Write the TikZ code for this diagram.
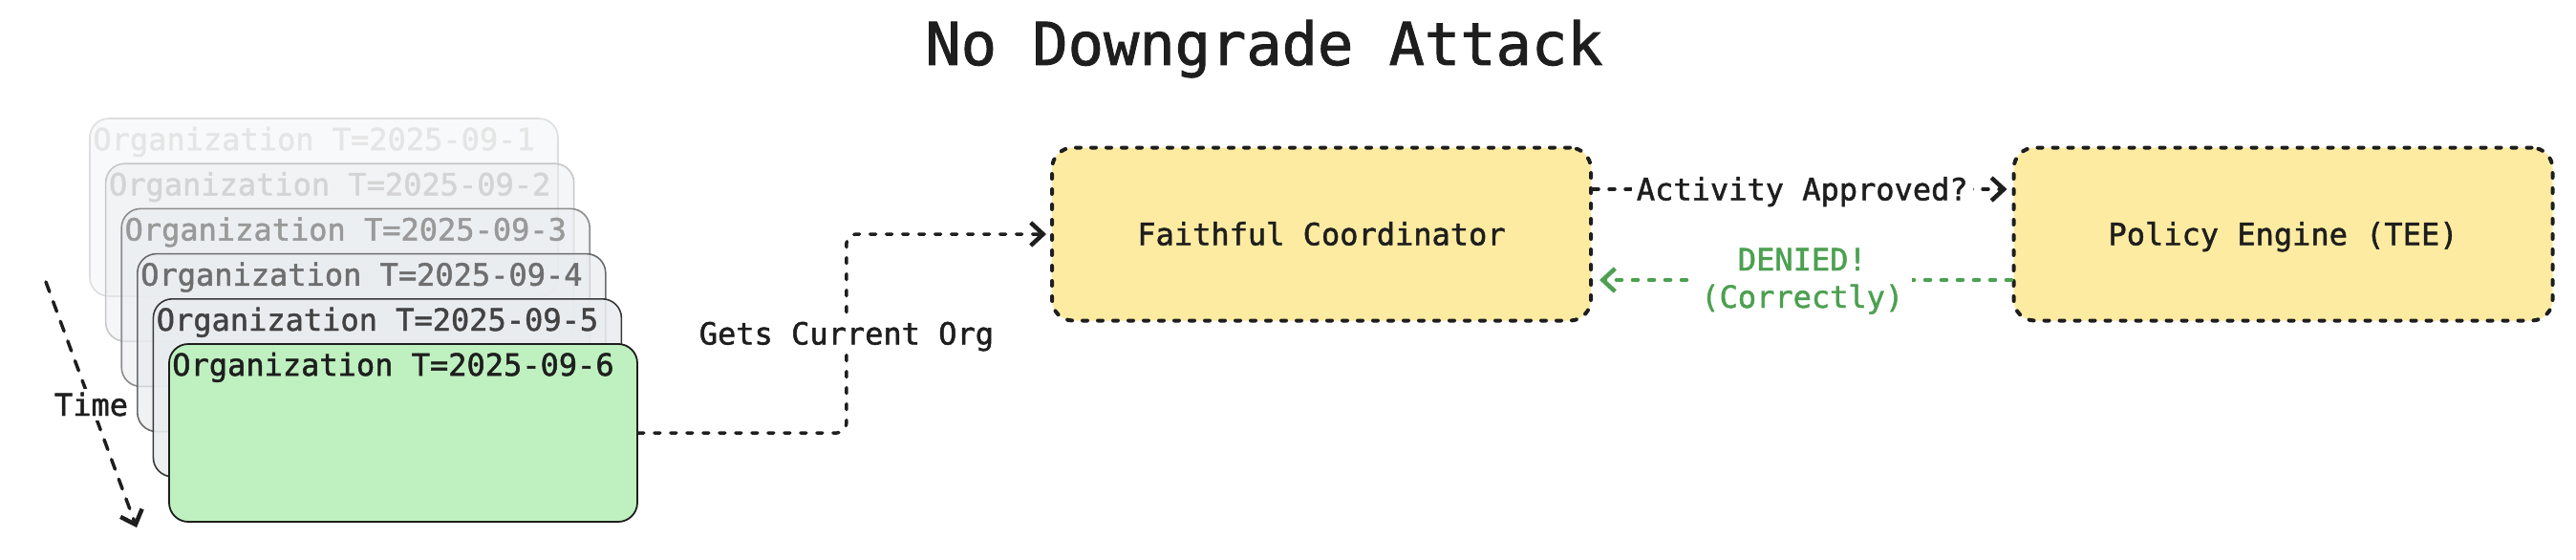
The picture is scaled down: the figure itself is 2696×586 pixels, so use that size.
\documentclass[tikz,border=0pt]{standalone}
\usepackage{fontspec}
\setmonofont[FakeBold=1.5]{DejaVu Sans Mono}
\usetikzlibrary{arrows.meta}
\definecolor{ink}{HTML}{1E1E1E}
\definecolor{yel}{HTML}{FDEBA1}
\definecolor{grn}{HTML}{BFF0C0}
\definecolor{okgreen}{HTML}{4CA050}
\definecolor{orgfill}{HTML}{E9ECEF}
\begin{document}
\begin{tikzpicture}[x=1pt,y=-1pt,
  lbl/.style={font=\ttfamily\fontsize{32}{39}\selectfont, text=ink},
  orgbox/.style={draw, rounded corners=20pt, line width=1.6pt, minimum width=490pt, minimum height=186pt, inner sep=0pt},
  orgtext/.style={lbl, anchor=base west, inner sep=0pt},
  actor/.style={draw=ink, fill=yel, rounded corners=22pt, line width=4pt, dash pattern=on 5pt off 11pt, line cap=round, minimum width=564pt, minimum height=181pt, lbl, text height=23pt, text depth=0pt},
  flow/.style={draw=ink, line width=3.5pt, dash pattern=on 6pt off 11pt, line cap=round, line join=round, -{Straight Barb[length=13pt,width=24pt,line width=4.5pt]}},
  elabel/.style={lbl, fill=white, inner sep=6pt, text height=23pt, text depth=0pt}
]
\useasboundingbox (0,0) rectangle (2696,586);

% title
\node[font=\ttfamily\fontsize{62}{70}\selectfont, text=ink, anchor=base, inner sep=0pt] (title) at (1323,68) {No Downgrade Attack};

% stack of organization snapshots
\node[orgbox, draw=black!13, fill=orgfill, fill opacity=0.3] (o1) at (339,217) {};
\node[orgtext, text=black!10] (t1) at ([shift={(4,34)}]o1.north west) {Organization T=2025-09-1};
\node[orgbox, draw=black!22, fill=orgfill, fill opacity=0.45] (o2) at (355.6,264.2) {};
\node[orgtext, text=black!17] (t2) at ([shift={(4,34)}]o2.north west) {Organization T=2025-09-2};
\node[orgbox, draw=black!45, fill=orgfill, fill opacity=0.6] (o3) at (372.2,311.4) {};
\node[orgtext, text=black!40] (t3) at ([shift={(4,34)}]o3.north west) {Organization T=2025-09-3};
\node[orgbox, draw=black!58, fill=orgfill, fill opacity=0.75] (o4) at (388.8,358.6) {};
\node[orgtext, text=black!57] (t4) at ([shift={(4,34)}]o4.north west) {Organization T=2025-09-4};
\node[orgbox, draw=black!78, fill=orgfill, fill opacity=0.88] (o5) at (405.4,405.8) {};
\node[orgtext, text=black!74] (t5) at ([shift={(4,34)}]o5.north west) {Organization T=2025-09-5};
\node[orgbox, draw=ink, line width=1.8pt, fill=grn] (o6) at (422,453) {};
\node[orgtext] (t6) at ([shift={(4,34)}]o6.north west) {Organization T=2025-09-6};

% time arrow
\coordinate (ts) at (48,295);
\coordinate (te) at (143,552);
\draw[flow, dash pattern=on 11pt off 11pt] (ts) -- node[elabel, inner sep=5pt] (timelbl) {Time} (te);

% actors
\node[actor] (coord) at (1383,245) {Faithful Coordinator};
\node[actor] (pol) at (2389.5,245) {Policy Engine (TEE)};

% connectors
\draw[flow, rounded corners=10pt, shorten >=4pt] (o6.east) -- ++(218,0) |- node[pos=0.25, elabel, inner sep=8pt] (getlbl) {Gets Current Org} (coord.west);
\draw[flow, shorten >=5pt] (coord.east |- 0,198) -- node[elabel, inner sep=5pt] (actlbl) {Activity Approved?} (pol.west |- 0,198);
\draw[flow, draw=okgreen, shorten >=7pt] (pol.west |- 0,293) -- node[elabel, text=okgreen, align=center, inner sep=9pt, text height=58pt, text depth=0pt] (denlbl) {DENIED!\\(Correctly)} (coord.east |- 0,293);
\end{tikzpicture}
\end{document}
